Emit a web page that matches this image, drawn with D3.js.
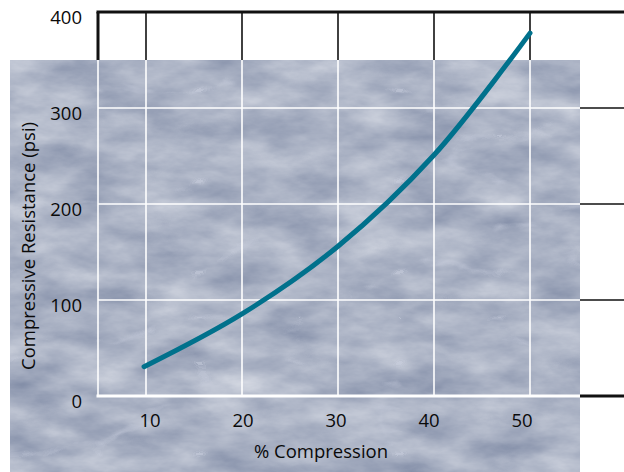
<!DOCTYPE html>
<html>
<head>
<meta charset="utf-8">
<script src="https://cdn.jsdelivr.net/npm/d3@7"></script>
<style>
    body { margin: 0; background: #fff; }
    text { font-family: "Open Sans", "Noto Sans", sans-serif; fill: #0a0a0a; }
</style>
</head>
<body>
<div id="chart"></div>
<script>
// % compression vs compressive resistance (psi)
const compression = [9.8, 20, 30, 40, 50];
const resistance = [30.5, 85.5, 156, 251, 378];
const xTicks = [10, 20, 30, 40, 50];
const yTicks = [0, 100, 200, 300, 400];

let WIDTH = 624,
    HEIGHT = 472,
    PLOT_LEFT = 98,
    PLOT_TOP = 12,
    PLOT_BOTTOM = 396,
    BG = {x: 10, y: 60, w: 570, h: 412},
    CURVE_COLOR = "#00718c",
    FONT_SIZE = 18.5;

let svg = d3.select("#chart").append("svg")
    .attr("width", WIDTH)
    .attr("height", HEIGHT);

let x = d3.scaleLinear().domain([5, 10]).range([PLOT_LEFT, 146]);
let y = d3.scaleLinear().domain([0, 400]).range([PLOT_BOTTOM, PLOT_TOP]);
// tick labels sit a little off their gridlines in the original
let xLabel = d3.scaleLinear().domain([10, 50]).range([150, 522]);

let defs = svg.append("defs");

// marble texture for the background panel
let marble = defs.append("filter")
    .attr("id", "marble")
    .attr("color-interpolation-filters", "sRGB")
    .attr("x", 0).attr("y", 0).attr("width", 1).attr("height", 1);
marble.append("feTurbulence")
    .attr("type", "fractalNoise")
    .attr("baseFrequency", "0.015 0.035")
    .attr("numOctaves", 5)
    .attr("seed", 7)
    .attr("result", "noise");
marble.append("feColorMatrix")
    .attr("in", "noise")
    .attr("type", "matrix")
    .attr("values", "0.36 0 0 0 0.49  0.33 0 0 0 0.535  0.26 0 0 0 0.64  0 0 0 0 1")
    .attr("result", "tint");
marble.append("feTurbulence")
    .attr("type", "turbulence")
    .attr("baseFrequency", "0.005 0.011")
    .attr("numOctaves", 4)
    .attr("seed", 11)
    .attr("result", "veins");
marble.append("feColorMatrix")
    .attr("in", "veins")
    .attr("type", "matrix")
    .attr("values", "0 0 0 0 0.8  0 0 0 0 0.82  0 0 0 0 0.88  -5 0 0 0 0.5")
    .attr("result", "veinTint");
marble.append("feComposite")
    .attr("in", "veinTint")
    .attr("in2", "tint")
    .attr("operator", "over")
    .attr("result", "stone");
marble.append("feComposite")
    .attr("in", "stone")
    .attr("in2", "SourceGraphic")
    .attr("operator", "in");

defs.append("clipPath")
    .attr("id", "bgClip")
    .append("rect")
    .attr("x", BG.x).attr("y", BG.y)
    .attr("width", BG.w).attr("height", BG.h);

// black grid first, white copy clipped to the panel goes over it
function drawGrid(g, color) {
    g.selectAll(".vgrid")
        .data(xTicks)
        .join("line")
        .attr("class", "vgrid")
        .attr("x1", d => x(d)).attr("x2", d => x(d))
        .attr("y1", y(400)).attr("y2", y(0))
        .attr("stroke", color)
        .attr("stroke-width", 1.6);

    g.selectAll(".hgrid")
        .data(yTicks)
        .join("line")
        .attr("class", "hgrid")
        .attr("x1", d => (d === 0 || d === 400) ? PLOT_LEFT - 1.5 : PLOT_LEFT)
        .attr("x2", WIDTH)
        .attr("y1", d => y(d)).attr("y2", d => y(d))
        .attr("stroke", color)
        .attr("stroke-width", d => (d === 0 || d === 400) ? 3 : 1.6);

    g.append("line")
        .attr("x1", PLOT_LEFT).attr("x2", PLOT_LEFT)
        .attr("y1", y(400)).attr("y2", y(0))
        .attr("stroke", color)
        .attr("stroke-width", color === "#fff" ? 1.6 : 3);
}

drawGrid(svg.append("g"), "#111");

svg.append("rect")
    .attr("x", BG.x).attr("y", BG.y)
    .attr("width", BG.w).attr("height", BG.h)
    .attr("fill", "#aab2c6")
    .attr("filter", "url(#marble)");

drawGrid(svg.append("g").attr("clip-path", "url(#bgClip)"), "#fff");

// the curve
let line = d3.line()
    .x((d, i) => x(compression[i]))
    .y(d => y(d))
    .curve(d3.curveCatmullRom.alpha(0.5));

svg.append("path")
    .datum(resistance)
    .attr("d", line)
    .attr("fill", "none")
    .attr("stroke", CURVE_COLOR)
    .attr("stroke-width", 5)
    .attr("stroke-linecap", "round");

// tick labels
svg.append("g")
    .selectAll("text")
    .data(yTicks)
    .join("text")
    .attr("x", 82)
    .attr("y", d => y(d) + 12)
    .attr("text-anchor", "end")
    .attr("font-size", FONT_SIZE)
    .text(d => d);

svg.append("g")
    .selectAll("text")
    .data(xTicks)
    .join("text")
    .attr("x", d => xLabel(d))
    .attr("y", 427)
    .attr("text-anchor", "middle")
    .attr("font-size", FONT_SIZE)
    .text(d => d);

// axis titles
svg.append("text")
    .attr("x", 321)
    .attr("y", 458)
    .attr("text-anchor", "middle")
    .attr("font-size", FONT_SIZE)
    .text("% Compression");

svg.append("text")
    .attr("transform", "translate(35,246) rotate(-90)")
    .attr("text-anchor", "middle")
    .attr("font-size", FONT_SIZE)
    .text("Compressive Resistance (psi)");
</script>
</body>
</html>
